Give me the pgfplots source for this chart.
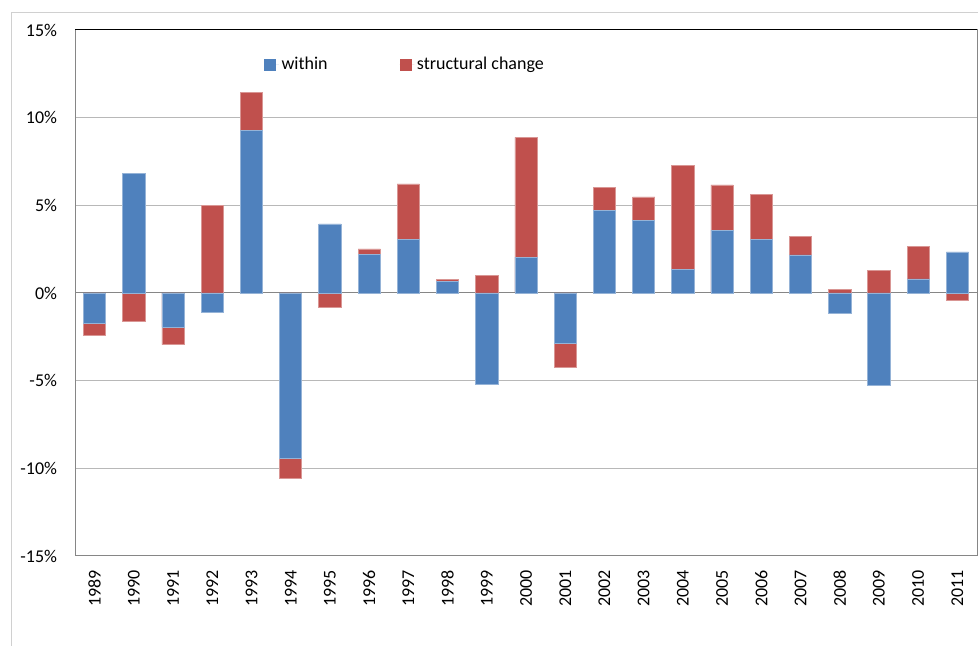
\documentclass[border=0pt]{standalone}
\usepackage{pgfplots}
\pgfplotsset{compat=1.18}
\usepackage{pgfplotstable}
\usepackage{fontspec}
\setmainfont{Carlito}
\definecolor{barblue}{HTML}{4F81BD}
\definecolor{barred}{HTML}{C0504D}
\definecolor{gridgray}{HTML}{B8B8B8}
\definecolor{axisgray}{HTML}{868686}
\definecolor{framegray}{HTML}{D0D0D0}

% x: category index (0 = 1989); redend = outer end of the structural-change segment
\pgfplotstableread{
x within structural redend
0  -1.71 -0.73 -2.44
1   6.81 -1.62 -1.62
2  -1.94 -1.01 -2.95
3  -1.08  5.00  5.00
4   9.28  2.15 11.43
5  -9.41 -1.18 -10.59
6   3.94 -0.80 -0.80
7   2.20  0.31  2.51
8   3.06  3.16  6.22
9   0.68  0.08  0.76
10 -5.19  1.00  1.00
11  2.05  6.83  8.88
12 -2.85 -1.39 -4.24
13  4.70  1.32  6.02
14  4.14  1.34  5.48
15  1.35  5.91  7.26
16  3.59  2.57  6.16
17  3.06  2.55  5.61
18  2.17  1.04  3.21
19 -1.18  0.19  0.19
20 -5.27  1.31  1.31
21  0.80  1.86  2.66
22  2.34 -0.44 -0.44
}\data

\begin{document}
\begin{tikzpicture}[font=\fontsize{13.5}{16}\selectfont]
\path[use as bounding box] (0,0) rectangle (733.5pt,484.5pt);
\draw[framegray, line width=0.75pt] (8.8pt,0) -- (8.8pt,475pt) -- (733.5pt,475pt);
\begin{axis}[
  at={(56.25pt,67.5pt)}, anchor=south west,
  scale only axis, width=676.5pt, height=394.5pt,
  xmin=-0.5, xmax=22.5, ymin=-15, ymax=15,
  ybar, bar width=16.7pt, bar shift=0pt,
  xtick={0,...,22},
  xticklabels={1989,1990,1991,1992,1993,1994,1995,1996,1997,1998,1999,2000,2001,2002,2003,2004,2005,2006,2007,2008,2009,2010,2011},
  ytick={-15,-10,-5,0,5,10,15},
  yticklabels={-15\%,-10\%,-5\%,0\%,5\%,10\%,15\%},
  extra y ticks={0}, extra y tick labels={},
  extra y tick style={grid style={axisgray, line width=0.75pt}},
  ymajorgrids, grid style={gridgray, line width=0.75pt},
  major tick length=0pt,
  axis line style={axisgray, line width=0.75pt},
  tick label style={font=\fontsize{13.5}{16}\selectfont, black},
  xticklabel style={rotate=90, anchor=east, inner xsep=10.5pt},
  yticklabel style={anchor=east, inner xsep=13.3pt},
  legend columns=2,
  legend style={at={(0.2095,0.934)}, anchor=west, draw=none, fill=none,
    inner sep=0pt, font=\fontsize{13.5}{16}\selectfont,
    /tikz/every even column/.append style={column sep=52pt}},
  legend image code/.code={\fill[#1, draw=none] (0pt,-4.5pt) rectangle (9pt,4.5pt); \path (0pt,0pt) -- (11pt,0pt);},
]
\addplot[fill=barred, draw=barred!60!white, line width=0.5pt, forget plot] table[x=x, y=redend] {\data};
\addplot[fill=barblue, draw=barblue!60!white, line width=0.5pt, forget plot] table[x=x, y=within] {\data};
\addlegendimage{fill=barblue, draw=none}
\addlegendentry{within}
\addlegendimage{fill=barred, draw=none}
\addlegendentry{structural change}
\draw[black, line width=0.75pt] (rel axis cs:0,1) -- (rel axis cs:1,1);
\end{axis}
\end{tikzpicture}
\end{document}
